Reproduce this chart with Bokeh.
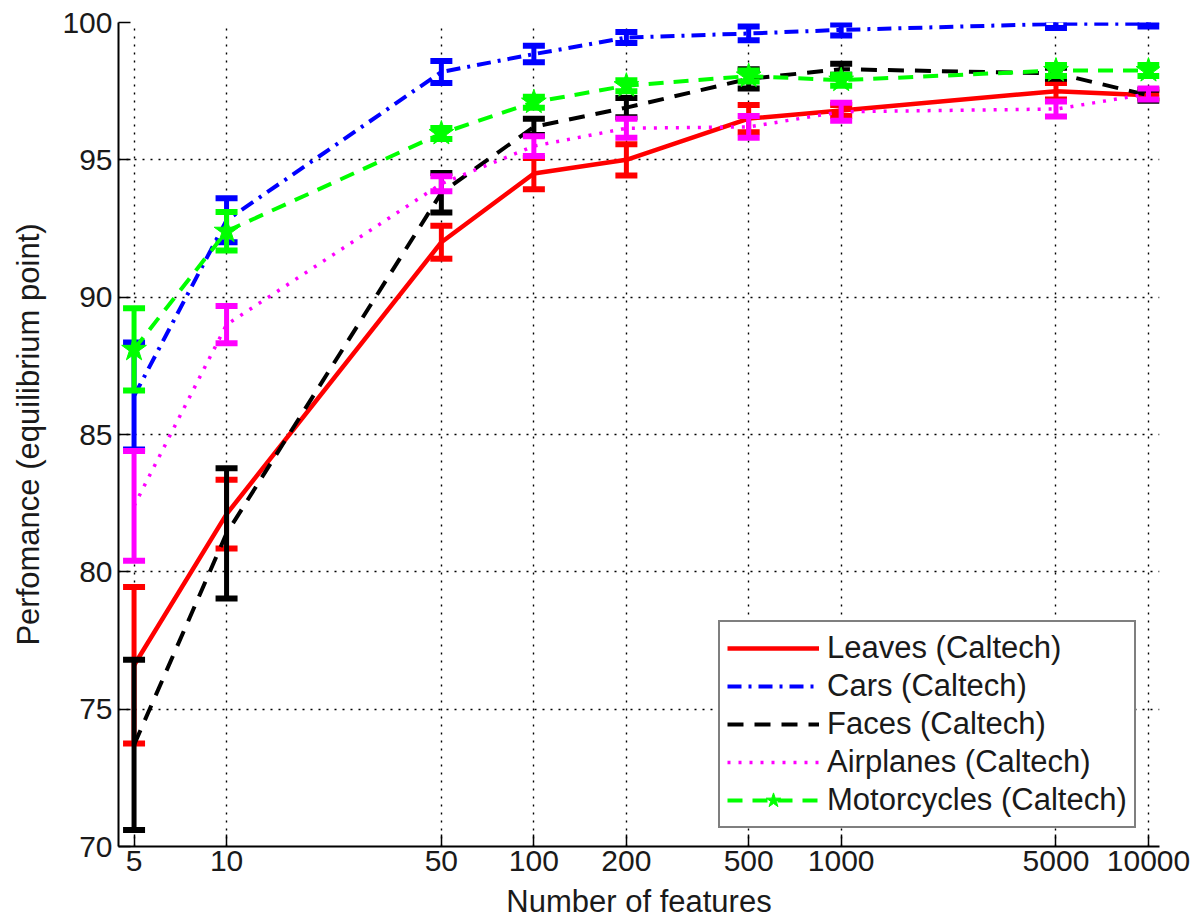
from bokeh.plotting import figure
from bokeh.models import Range1d, FixedTicker, Legend, LegendItem
from bokeh.embed import file_html
from bokeh.resources import INLINE

features = [5, 10, 50, 100, 200, 500, 1000, 5000, 10000]
x_tick_labels = ["5", "10", "50", "100", "200", "500", "1000", "5000", "10000"]
y_ticks = [70, 75, 80, 85, 90, 95, 100]

leaves_mean = [76.6, 82.1, 92.0, 94.5, 95.0, 96.5, 96.8, 97.5, 97.35]
leaves_err = [2.85, 1.25, 0.6, 0.57, 0.57, 0.5, 0.2, 0.3, 0.1]
cars_mean = [86.4, 92.8, 98.2, 98.85, 99.45, 99.6, 99.73, 99.95, 99.95]
cars_err = [1.95, 0.8, 0.4, 0.3, 0.2, 0.25, 0.2, 0.15, 0.1]
faces_mean = [73.7, 81.4, 93.8, 96.2, 96.9, 97.95, 98.3, 98.15, 97.35]
faces_err = [3.1, 2.37, 0.72, 0.3, 0.35, 0.35, 0.2, 0.2, 0.2]
airplanes_mean = [82.4, 89.0, 94.13, 95.5, 96.15, 96.2, 96.75, 96.85, 97.4]
airplanes_err = [2.0, 0.68, 0.27, 0.36, 0.35, 0.4, 0.33, 0.27, 0.2]
moto_mean = [88.1, 92.4, 95.96, 97.1, 97.7, 98.05, 97.9, 98.25, 98.25]
moto_err = [1.5, 0.7, 0.2, 0.2, 0.2, 0.2, 0.2, 0.2, 0.2]

FONT = "Liberation Sans"
FS = "30px"

p = figure(width=1196, height=921, x_axis_type="log",
           x_range=Range1d(4.45, 10860), y_range=Range1d(70, 100),
           output_backend="svg", toolbar_location=None,
           min_border_left=118, min_border_right=37,
           min_border_top=22, min_border_bottom=73)
p.outline_line_color = None
p.background_fill_color = "white"
p.border_fill_color = "white"

p.xaxis.ticker = FixedTicker(ticks=features)
p.xaxis.major_label_overrides = {f: lab for f, lab in zip(features, x_tick_labels)}
p.yaxis.ticker = FixedTicker(ticks=y_ticks)
for ax in (p.xaxis, p.yaxis):
    ax.axis_line_color = "black"
    ax.axis_line_width = 2
    ax.major_tick_in = 12
    ax.major_tick_out = 0
    ax.major_tick_line_width = 1.5
    ax.minor_tick_line_color = None
    ax.major_label_text_font = FONT
    ax.major_label_text_font_size = FS
    ax.major_label_text_color = "#1a1a1a"
    ax.axis_label_text_font = FONT
    ax.axis_label_text_font_size = "31px"
    ax.axis_label_text_font_style = "normal"
    ax.axis_label_text_color = "#1a1a1a"
p.xaxis.major_label_standoff = 4
p.yaxis.major_label_standoff = 6
p.xaxis.axis_label = "Number of features"
p.yaxis.axis_label = "Perfomance (equilibrium point)"
p.xaxis.axis_label_standoff = 10
p.yaxis.axis_label_standoff = 13

for g in (p.xgrid, p.ygrid):
    g.grid_line_color = "black"
    g.grid_line_dash = "2 6"
    g.grid_line_width = 1.4
p.xgrid.ticker = FixedTicker(ticks=features)
p.ygrid.ticker = FixedTicker(ticks=y_ticks)

series = [
    ("Leaves (Caltech)", leaves_mean, leaves_err, "#ff0000", "solid", 4.5),
    ("Cars (Caltech)", cars_mean, cars_err, "#0000ff", "14 7 3 7", 4),
    ("Faces (Caltech)", faces_mean, faces_err, "#000000", "16 11", 4),
    ("Airplanes (Caltech)", airplanes_mean, airplanes_err, "#ff00ff", "3 8", 3.5),
    ("Motorcycles (Caltech)", moto_mean, moto_err, "#00ff00", "15 10", 4),
]

items = []
for name, mean, err, color, dash, lw in series:
    upper = [m + e for m, e in zip(mean, err)]
    lower = [m - e for m, e in zip(mean, err)]
    ln = p.line(features, mean, line_color=color, line_width=lw, line_dash=dash)
    p.segment(x0=features, y0=lower, x1=features, y1=upper,
              line_color=color, line_width=5)
    p.scatter(features, upper, marker="dash", size=22, line_color=color, line_width=6)
    p.scatter(features, lower, marker="dash", size=22, line_color=color, line_width=6)
    rends = [ln]
    if name.startswith("Motorcycles"):
        st = p.scatter(features, mean, marker="star", size=26,
                       fill_color=color, line_color=color)
        rends.append(st)
    items.append(LegendItem(label=name, renderers=rends))

legend = Legend(items=items, location=(600, 18))
legend.border_line_color = "black"
legend.border_line_width = 2
legend.background_fill_color = "white"
legend.background_fill_alpha = 1
legend.label_text_font = FONT
legend.label_text_font_size = "31px"
legend.label_text_color = "#1a1a1a"
legend.padding = 7
legend.margin = 0
legend.spacing = 0
legend.glyph_width = 92
legend.glyph_height = 38
legend.label_height = 38
legend.label_standoff = 8
p.add_layout(legend, "center")

open("out.html", "w").write(file_html(p, INLINE))
